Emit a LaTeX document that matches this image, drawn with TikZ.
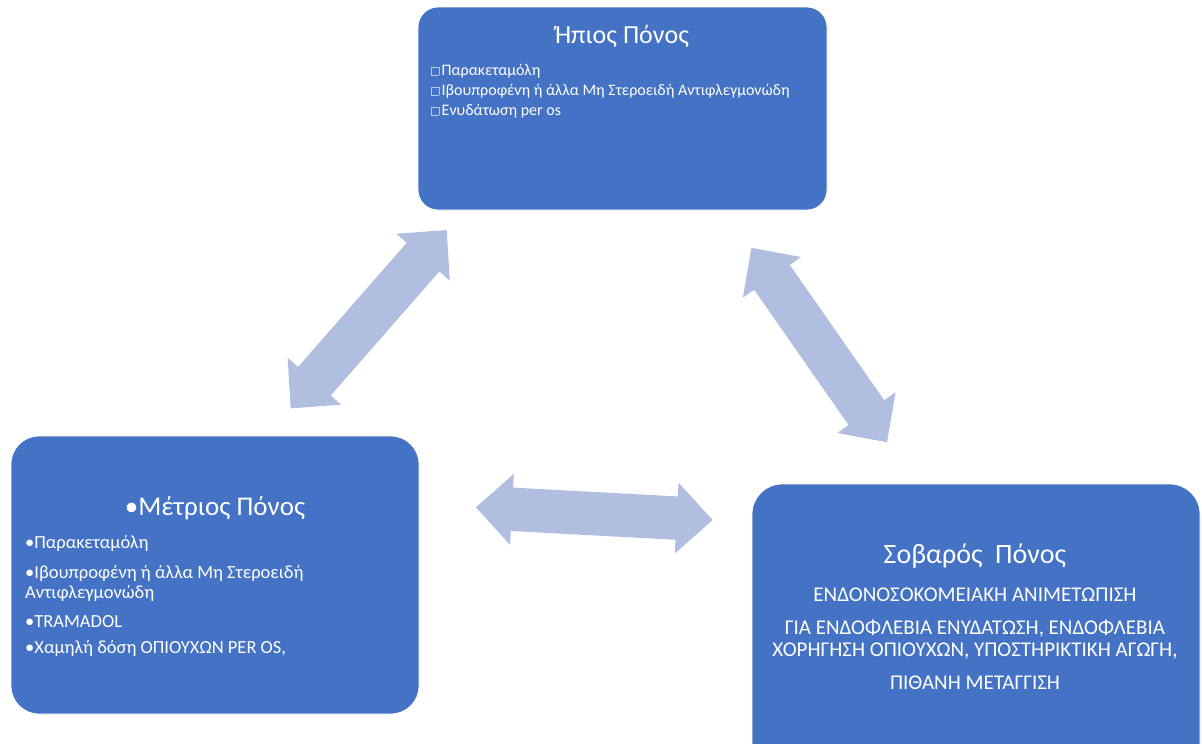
\documentclass[tikz,border=0pt]{standalone}
\usepackage{fontspec}
\setmainfont{Carlito}
\begin{document}
\definecolor{boxblue}{RGB}{68,114,196}
\definecolor{arrowblue}{RGB}{176,190,223}
\definecolor{glyphgray}{RGB}{190,200,225}
\newcommand{\emptybox}{{\color{glyphgray}\setlength{\fboxsep}{0pt}\setlength{\fboxrule}{0.5pt}\fbox{\rule{0pt}{8pt}\hspace{7pt}}}\hspace{2.5pt}}
\begin{tikzpicture}[x=1pt,y=-1pt,
  panel/.style={fill=boxblue,draw=white,line width=0.8pt},
  txt/.style={text=white,inner sep=0pt,anchor=base west},
  ctxt/.style={text=white,inner sep=0pt,anchor=base},
  blockarrow/.style={fill=arrowblue,draw=none}]
\clip (0,0) rectangle (1202,744);
\fill[white] (0,0) rectangle (1202,744);

% three pain-level panels
\draw[panel,rounded corners=20pt] (418,7) rectangle (827,210);
\draw[panel,rounded corners=28pt] (11,436) rectangle (419,714);
\draw[panel,rounded corners=30pt] (752,484) rectangle (1200,784);

% mild pain
\node[ctxt,font=\fontsize{26}{30}\selectfont] (mildtitle) at (622,43) {Ήπιος Πόνος};
\node[txt,font=\fontsize{16}{19}\selectfont] (mild1) at (431,75) {\emptybox Παρακεταμόλη};
\node[txt,font=\fontsize{16}{19}\selectfont] (mild2) at (431,95) {\emptybox Ιβουπροφένη ή άλλα Μη Στεροειδή Αντιφλεγμονώδη};
\node[txt,font=\fontsize{16}{19}\selectfont] (mild3) at (431,115) {\emptybox Ενυδάτωση per os};

% moderate pain
\node[ctxt,font=\fontsize{27}{31}\selectfont] (modtitle) at (215,515) {•Μέτριος Πόνος};
\node[txt,font=\fontsize{18.5}{22}\selectfont] (mod1) at (25,548) {•Παρακεταμόλη};
\node[txt,font=\fontsize{18.5}{22}\selectfont] (mod2) at (25,578) {•Ιβουπροφένη ή άλλα Μη Στεροειδή};
\node[txt,font=\fontsize{18.5}{22}\selectfont] (mod2b) at (25,598) {Αντιφλεγμονώδη};
\node[txt,font=\fontsize{18.5}{22}\selectfont] (mod3) at (25,627) {•TRAMADOL};
\node[txt,font=\fontsize{18.5}{22}\selectfont] (mod4) at (25,653) {•Χαμηλή δόση ΟΠΙΟΥΧΩΝ PER OS,};

% severe pain
\node[ctxt,font=\fontsize{28}{32}\selectfont] (sevtitle) at (975,563) {Σοβαρός\ \ Πόνος};
\node[ctxt,font=\fontsize{21}{24}\selectfont] (sev1) at (975,601) {ΕΝΔΟΝΟΣΟΚΟΜΕΙΑΚΗ ΑΝΙΜΕΤΩΠΙΣΗ};
\node[ctxt,font=\fontsize{21}{24}\selectfont] (sev2) at (975,634) {ΓΙΑ ΕΝΔΟΦΛΕΒΙΑ ΕΝΥΔΑΤΩΣΗ, ΕΝΔΟΦΛΕΒΙΑ};
\node[ctxt,font=\fontsize{21}{24}\selectfont] (sev3) at (975,656) {ΧΟΡΗΓΗΣΗ ΟΠΙΟΥΧΩΝ, ΥΠΟΣΤΗΡΙΚΤΙΚΗ ΑΓΩΓΗ,};
\node[ctxt,font=\fontsize{21}{24}\selectfont] (sev4) at (975,689) {ΠΙΘΑΝΗ ΜΕΤΑΓΓΙΣΗ};

% double-headed block arrows between the panels
\coordinate (arrowA) at (368.7,319.2);
\coordinate (arrowB) at (819.2,345);
\coordinate (arrowC) at (594.3,513.7);
\def\dblarrow{(-118.5,0) -- (-82.5,35.5) -- (-82.5,21.7) -- (82.5,21.7) -- (82.5,35.5) -- (118.5,0) -- (82.5,-35.5) -- (82.5,-21.7) -- (-82.5,-21.7) -- (-82.5,-35.5) -- cycle}
\fill[blockarrow,shift={(arrowA)},rotate=48.8] \dblarrow;
\fill[blockarrow,shift={(arrowB)},rotate=-55.1] \dblarrow;
\fill[blockarrow,shift={(arrowC)},rotate=-3.07] \dblarrow;
\end{tikzpicture}
\end{document}
